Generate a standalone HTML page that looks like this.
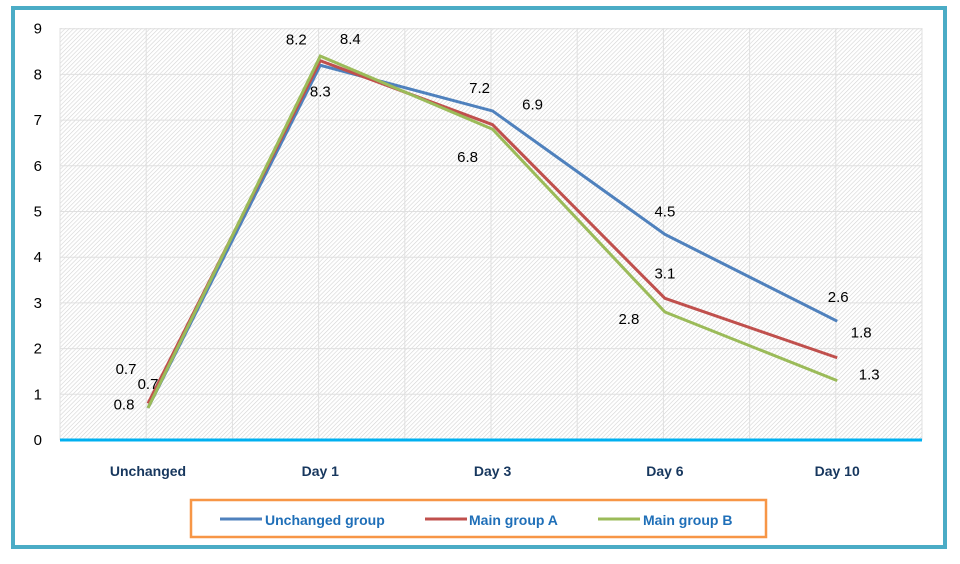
<!DOCTYPE html>
<html><head><meta charset="utf-8"><style>
body{margin:0;background:#fff;width:960px;height:559px;overflow:hidden;font-family:"Liberation Sans",sans-serif}
</style></head><body>
<svg width="960" height="559">
<defs><pattern id="h" width="3" height="3" patternUnits="userSpaceOnUse" patternTransform="rotate(45)"><rect width="3" height="3" fill="#fff"/><line x1="0" y1="0" x2="0" y2="3" stroke="#d4d4d4" stroke-width="1.2"/></pattern></defs>
<rect x="13" y="8" width="932" height="539" fill="#fff" stroke="#4bacc6" stroke-width="4"/>
<rect x="60" y="28" width="862" height="412" fill="url(#h)"/>
<g id="grid"></g><g id="yt"></g><g id="xt"></g><g id="lines"></g><g id="labs"></g>
<line x1="60" y1="440" x2="922" y2="440" stroke="#00b0f0" stroke-width="3"/>
<rect x="191" y="500" width="575" height="37" fill="#fff" stroke="#f79646" stroke-width="2.5"/>
<g><line x1="220" y1="519" x2="262" y2="519" stroke="#4f81bd" stroke-width="3"/><text x="265" y="525" font-size="14" font-weight="bold" fill="#1f6fb8">Unchanged group</text></g>
<g><line x1="425" y1="519" x2="467" y2="519" stroke="#c0504d" stroke-width="3"/><text x="469" y="525" font-size="14" font-weight="bold" fill="#1f6fb8">Main group A</text></g>
<g><line x1="598" y1="519" x2="640" y2="519" stroke="#9bbb59" stroke-width="3"/><text x="643" y="525" font-size="14" font-weight="bold" fill="#1f6fb8">Main group B</text></g>
</svg>
<script>
const categories=["Unchanged","Day 1","Day 3","Day 6","Day 10"];
const unchanged=[0.7,8.2,7.2,4.5,2.6];
const groupA=[0.8,8.3,6.9,3.1,1.8];
const groupB=[0.7,8.4,6.8,2.8,1.3];
const yTicks=[0,1,2,3,4,5,6,7,8,9];
const NS="http://www.w3.org/2000/svg";
const X=i=>148+i*172.3, Y=v=>440-v*45.7;
function mk(t,a,p){const e=document.createElementNS(NS,t);for(const k in a)e.setAttribute(k,a[k]);p.appendChild(e);return e;}
const g=document.getElementById('grid');
for(const v of yTicks){if(v>0){const l=mk('line',{x1:60,x2:922,y1:Y(v),y2:Y(v),stroke:'#e0e0e0'},g);

}
const t=mk('text',{x:42,y:Y(v)+5,'font-size':15,'text-anchor':'end',fill:'#000'},document.getElementById('yt'));t.textContent=v;

}
for(let k=0;k<=10;k++){const x=60+k*86.2;const l=mk('line',{x1:x,x2:x,y1:28,y2:440,stroke:'#e0e0e0'},g);

}
categories.forEach((c,i)=>{const t=mk('text',{x:X(i),y:476,'font-size':14,'font-weight':'bold','text-anchor':'middle',fill:'#17375e'},document.getElementById('xt'));t.textContent=c;

});
const series=[[unchanged,'#4f81bd','line-unchanged'],[groupA,'#c0504d','line-group-a'],[groupB,'#9bbb59','line-group-b']];
series.forEach(([d,c,n])=>{const p=mk('polyline',{points:d.map((v,i)=>X(i)+','+Y(v)).join(' '),fill:'none',stroke:c,'stroke-width':3},document.getElementById('lines'));

});
const offs=[[[-22,-39],[-24,-26],[-13,-23],[0,-23],[1,-24]],[[-24,1],[0,31],[40,-20],[0,-25],[24,-25]],[[0,-24],[30,-17],[-25,28],[-36,7],[32,-6]]];
const lab=document.getElementById('labs');
[unchanged,groupA,groupB].forEach((d,s)=>d.forEach((v,i)=>{const o=offs[s][i];const t=mk('text',{x:X(i)+o[0],y:Y(v)+o[1]+5,'font-size':15,'text-anchor':'middle',fill:'#000'},lab);t.textContent=v.toFixed(1);

}));
</script>
</body></html>
